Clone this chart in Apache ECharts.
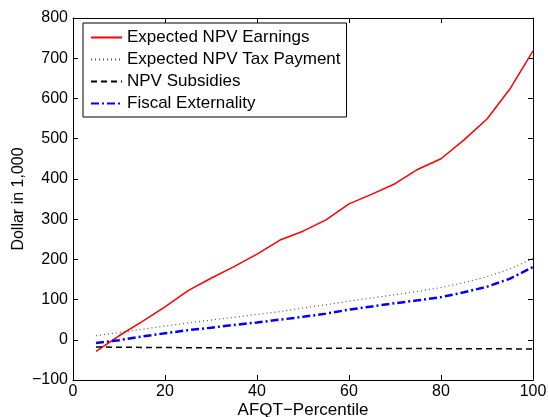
<!DOCTYPE html>
<html>
<head>
<meta charset="utf-8">
<script src="https://cdn.jsdelivr.net/npm/echarts@6/dist/echarts.min.js"></script>
<style>
  html, body { margin: 0; padding: 0; background: #fff; }
  #chart { width: 548px; height: 417px; }
</style>
</head>
<body>
<div id="chart"></div>
<script>
// AFQT percentiles
const percentiles = [5, 10, 15, 20, 25, 30, 35, 40, 45, 50, 55, 60, 65, 70, 75, 80, 85, 90, 95, 100]
// dollar in 1,000
const earnings = [-29, 10, 45, 82, 122, 153, 182, 213, 248, 270, 298, 338, 362, 388, 424, 450, 497, 549, 624, 718]
const taxPayment = [10, 18, 26, 34, 42, 49, 56, 63, 70, 79, 87, 96, 104, 112, 120, 130, 142, 157, 176, 202]
const subsidies = [-18, -18.5, -19, -19.3, -19.6, -20, -20.2, -20.4, -20.6, -20.8, -21, -21.2, -21.4, -21.6, -21.8, -22, -22.2, -22.4, -22.6, -23]
const fiscalExt = [-8, -1, 8, 16, 24, 30, 37, 43, 50, 57, 65, 75, 83, 91, 98, 106, 118, 132, 152, 181]
const seriesNames = ['Expected NPV Earnings', 'Expected NPV Tax Payment', 'NPV Subsidies', 'Fiscal Externality']

const font = 'Liberation Sans, Arial, Helvetica, sans-serif'
const pair = (arr) => percentiles.map((p, i) => [p, arr[i]])

const chart = echarts.init(document.getElementById('chart'))

const axisCommon = {
  axisLine: { show: true, onZero: false, lineStyle: { color: '#000', width: 1 } },
  axisTick: { show: true, inside: true, length: 5, lineStyle: { color: '#000' } },
  splitLine: { show: false }
}

chart.setOption({
  animation: false,
  grid: { left: 73, right: 15, top: 18, bottom: 37, containLabel: false, outerBoundsMode: 'none' },
  legend: {
    orient: 'vertical',
    left: 83,
    top: 23,
    itemWidth: 31,
    itemHeight: 10,
    itemGap: 5,
    padding: [6, 6, 5, 7],
    borderColor: '#000',
    borderWidth: 1,
    backgroundColor: '#fff',
    itemStyle: { opacity: 0 },
    textStyle: { fontFamily: font, fontSize: 17, color: '#000' },
    data: seriesNames
  },
  xAxis: [
    Object.assign({
      type: 'value', min: 0, max: 100, interval: 20, position: 'bottom',
      name: 'AFQT\u2212Percentile', nameLocation: 'middle', nameGap: 22, nameMoveOverlap: false,
      nameTextStyle: { fontFamily: font, fontSize: 17, color: '#000' },
      axisLabel: { fontFamily: font, fontSize: 16, color: '#000', margin: 4 }
    }, axisCommon),
    Object.assign({
      type: 'value', min: 0, max: 100, interval: 20, position: 'top',
      axisLabel: { show: false }
    }, axisCommon)
  ],
  yAxis: [
    Object.assign({
      type: 'value', min: -100, max: 800, interval: 100, position: 'left',
      name: 'Dollar in 1,000', nameLocation: 'middle', nameGap: 46, nameMoveOverlap: false,
      nameTextStyle: { fontFamily: font, fontSize: 16, color: '#000' },
      axisLabel: {
        fontFamily: font, fontSize: 16, color: '#000', margin: 5,
        formatter: (v) => v < 0 ? '\u2212' + Math.abs(v) : String(v)
      }
    }, axisCommon),
    Object.assign({
      type: 'value', min: -100, max: 800, interval: 100, position: 'right',
      axisLabel: { show: false }
    }, axisCommon)
  ],
  series: [
    {
      name: seriesNames[0], type: 'line', data: pair(earnings),
      showSymbol: false, symbol: 'none',
      lineStyle: { color: '#ff0000', width: 1.5, type: 'solid' },
      itemStyle: { color: '#ff0000' }
    },
    {
      name: seriesNames[1], type: 'line', data: pair(taxPayment),
      showSymbol: false, symbol: 'none',
      lineStyle: { color: '#555', width: 1.2, type: [1, 3] },
      itemStyle: { color: '#555' }
    },
    {
      name: seriesNames[2], type: 'line', data: pair(subsidies),
      showSymbol: false, symbol: 'none',
      lineStyle: { color: '#000', width: 1.5, type: [6, 4] },
      itemStyle: { color: '#000' }
    },
    {
      name: seriesNames[3], type: 'line', data: pair(fiscalExt),
      showSymbol: false, symbol: 'none',
      lineStyle: { color: '#0000ff', width: 2.5, type: [8, 3, 2, 3] },
      itemStyle: { color: '#0000ff' }
    }
  ]
})
</script>
</body>
</html>
